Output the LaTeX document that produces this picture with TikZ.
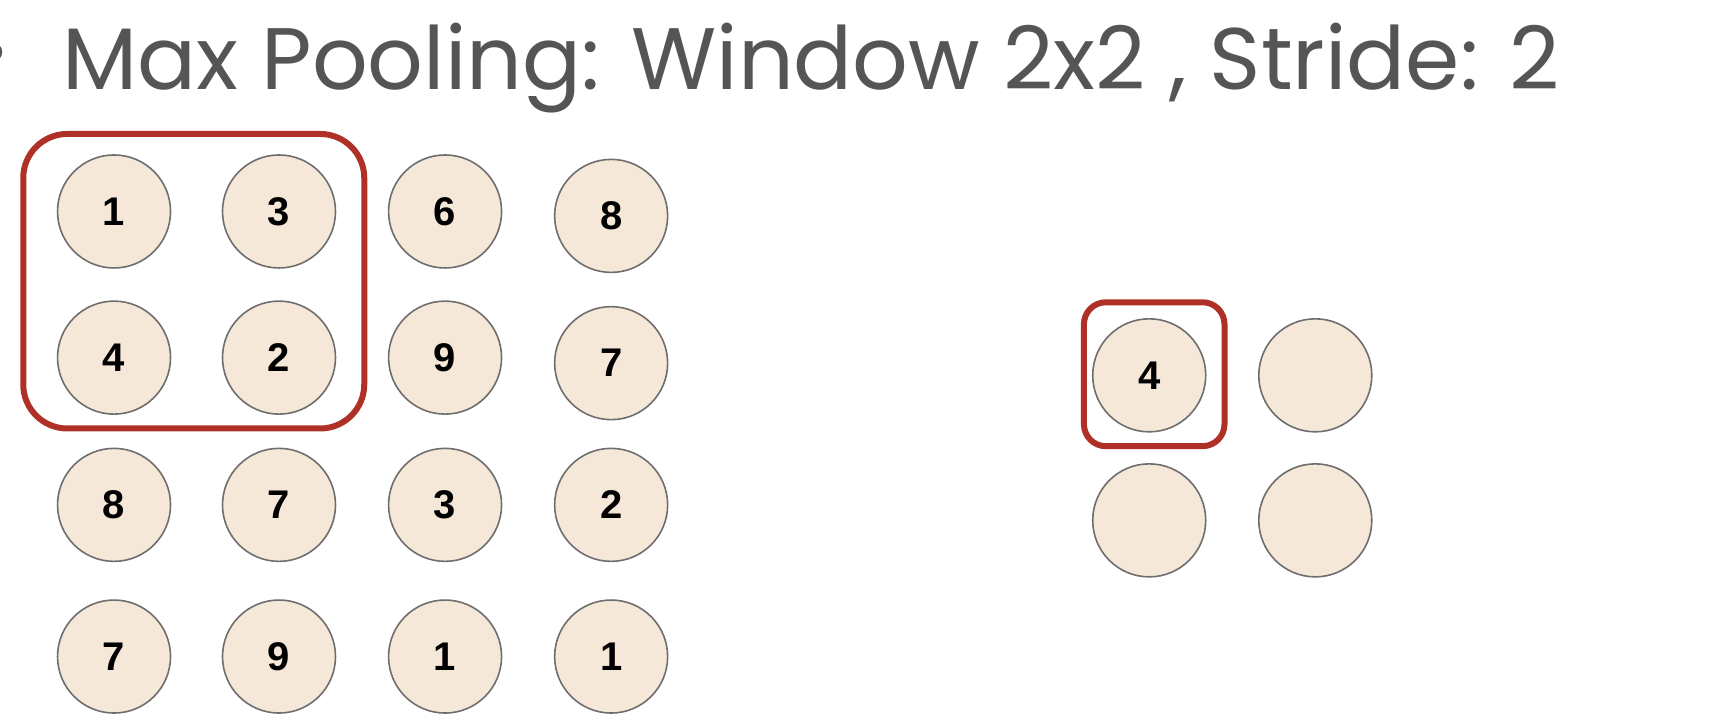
\documentclass[tikz,border=0pt]{standalone}
\usepackage{fontspec}
\setmainfont{Liberation Sans}
\newfontfamily\titlefont{Poppins}
\definecolor{cfill}{HTML}{F6E8D8}
\definecolor{cedge}{HTML}{6E6E6E}
\definecolor{boxred}{HTML}{AE3027}
\definecolor{titlegray}{HTML}{555555}
\begin{document}
\begin{tikzpicture}[x=1.1071pt,y=-1.1071pt,
  cell/.style={circle,draw=cedge,line width=1.6pt,fill=cfill,minimum size=113pt,inner sep=0pt,
    font=\fontsize{40}{40}\selectfont\bfseries},
  window/.style={draw=boxred,line width=6pt,rounded corners=#1},
]
\useasboundingbox (0,0) rectangle (1568,652.15);
\fill[titlegray] (-7,47) circle (9);
\node[anchor=base west,inner sep=0pt,text=titlegray,font=\titlefont\fontsize{87.3}{87.3}\selectfont] (title) at (56,81) {Max Pooling: Window 2x2 , Stride: 2};
% input grid
\node[cell] (a11) at (103,191) {1};
\node[cell] (a12) at (252,191) {3};
\node[cell] (a13) at (402,191) {6};
\node[cell] (a14) at (552,195) {8};
\node[cell] (a21) at (103,323) {4};
\node[cell] (a22) at (252,323) {2};
\node[cell] (a23) at (402,323) {9};
\node[cell] (a24) at (552,328) {7};
\node[cell] (a31) at (103,456) {8};
\node[cell] (a32) at (252,456) {7};
\node[cell] (a33) at (402,456) {3};
\node[cell] (a34) at (552,456) {2};
\node[cell] (a41) at (103,593) {7};
\node[cell] (a42) at (252,593) {9};
\node[cell] (a43) at (402,593) {1};
\node[cell] (a44) at (552,593) {1};
% output grid
\node[cell] (b11) at (1038,339) {4};
\node[cell] (b12) at (1188,339) {};
\node[cell] (b21) at (1038,470) {};
\node[cell] (b22) at (1188,470) {};
% windows
\draw[window=44pt] (21,121) rectangle (329,387);
\draw[window=22pt] (979,273) rectangle (1106,403);
\end{tikzpicture}
\end{document}
